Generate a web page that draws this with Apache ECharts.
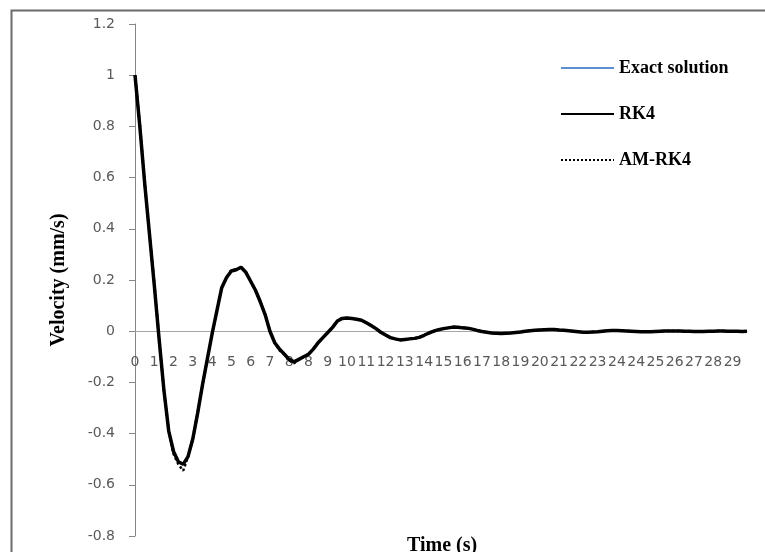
<!DOCTYPE html>
<html><head><meta charset="utf-8">
<script src="https://cdn.jsdelivr.net/npm/echarts@6/dist/echarts.min.js"></script>
<style>html,body{margin:0;padding:0;background:#fff}#c{width:765px;height:552px}</style>
</head><body><div id="c"></div><script>
// x tick labels as printed on the category axis (one per 4 samples)
const tickLabels = ['0','1','2','3','4','5','6','7','8','8','9','10','11','12','13','14','15','16','17','18','19','20','21','22','23','24','24','25','26','27','28','29'];
const samplesPerLabel = 4;

// Velocity (exact solution and RK4 coincide)
const exactVelocity = [
1.00, 0.80, 0.58, 0.38, 0.18, -0.03, -0.23, -0.39, -0.47, -0.51,
-0.52, -0.49, -0.42, -0.32, -0.21, -0.11, -0.01, 0.08, 0.17, 0.21,
0.235, 0.24, 0.25, 0.23, 0.195, 0.16, 0.115, 0.065, 0.0, -0.045,
-0.07, -0.09, -0.11, -0.12, -0.11, -0.10, -0.09, -0.07, -0.045, -0.025,
-0.005, 0.015, 0.04, 0.05, 0.052, 0.05, 0.047, 0.043, 0.033, 0.022,
0.01, -0.004, -0.015, -0.025, -0.03, -0.034, -0.032, -0.03, -0.028, -0.024,
-0.016, -0.007, 0.0, 0.006, 0.01, 0.013, 0.016, 0.015, 0.013, 0.012,
0.008, 0.003, -0.001, -0.004, -0.007, -0.008, -0.009, -0.008, -0.007, -0.005,
-0.003, 0.0, 0.002, 0.004, 0.005, 0.006, 0.007, 0.007, 0.005, 0.004,
0.002, 0.0, -0.002, -0.004, -0.004, -0.003, -0.002, 0.0, 0.002, 0.003,
0.003, 0.002, 0.001, 0.0, -0.001, -0.002, -0.002, -0.002, -0.001, 0.0,
0.001, 0.001, 0.001, 0.001, 0.0, 0.0, -0.001, -0.001, -0.001, 0.0,
0.0, 0.001, 0.001, 0.0, 0.0, 0.0, -0.001, 0.0
];
const rk4Velocity = [
1.00, 0.80, 0.58, 0.38, 0.18, -0.03, -0.23, -0.39, -0.47, -0.51,
-0.52, -0.49, -0.42, -0.32, -0.21, -0.11, -0.01, 0.08, 0.17, 0.21,
0.235, 0.24, 0.25, 0.23, 0.195, 0.16, 0.115, 0.065, 0.0, -0.045,
-0.07, -0.09, -0.11, -0.12, -0.11, -0.10, -0.09, -0.07, -0.045, -0.025,
-0.005, 0.015, 0.04, 0.05, 0.052, 0.05, 0.047, 0.043, 0.033, 0.022,
0.01, -0.004, -0.015, -0.025, -0.03, -0.034, -0.032, -0.03, -0.028, -0.024,
-0.016, -0.007, 0.0, 0.006, 0.01, 0.013, 0.016, 0.015, 0.013, 0.012,
0.008, 0.003, -0.001, -0.004, -0.007, -0.008, -0.009, -0.008, -0.007, -0.005,
-0.003, 0.0, 0.002, 0.004, 0.005, 0.006, 0.007, 0.007, 0.005, 0.004,
0.002, 0.0, -0.002, -0.004, -0.004, -0.003, -0.002, 0.0, 0.002, 0.003,
0.003, 0.002, 0.001, 0.0, -0.001, -0.002, -0.002, -0.002, -0.001, 0.0,
0.001, 0.001, 0.001, 0.001, 0.0, 0.0, -0.001, -0.001, -0.001, 0.0,
0.0, 0.001, 0.001, 0.0, 0.0, 0.0, -0.001, 0.0
];
const amRk4Velocity = [
1.00, 0.81, 0.58, 0.38, 0.19, -0.03, -0.23, -0.39, -0.48, -0.52,
-0.545, -0.49, -0.42, -0.32, -0.21, -0.11, -0.01, 0.08, 0.17, 0.21,
0.24, 0.24, 0.25, 0.23, 0.195, 0.16, 0.115, 0.065, 0.0, -0.045,
-0.075, -0.09, -0.115, -0.125, -0.11, -0.10, -0.09, -0.07, -0.045, -0.025,
-0.005, 0.015, 0.04, 0.05, 0.052, 0.05, 0.047, 0.043, 0.033, 0.022,
0.01, -0.004, -0.015, -0.025, -0.03, -0.034, -0.032, -0.03, -0.028, -0.024,
-0.016, -0.007, 0.0, 0.006, 0.01, 0.013, 0.016, 0.015, 0.013, 0.012,
0.008, 0.003, -0.001, -0.004, -0.007, -0.008, -0.009, -0.008, -0.007, -0.005,
-0.003, 0.0, 0.002, 0.004, 0.005, 0.006, 0.007, 0.007, 0.005, 0.004,
0.002, 0.0, -0.002, -0.004, -0.004, -0.003, -0.002, 0.0, 0.002, 0.003,
0.003, 0.002, 0.001, 0.0, -0.001, -0.002, -0.002, -0.002, -0.001, 0.0,
0.001, 0.001, 0.001, 0.001, 0.0, 0.0, -0.001, -0.001, -0.001, 0.0,
0.0, 0.001, 0.001, 0.0, 0.0, 0.0, -0.001, 0.0
];
const seriesNames = ['Exact solution', 'RK4', 'AM-RK4'];
const sampleIndex = exactVelocity.map((_, i) => String(i));

const chart = echarts.init(document.getElementById('c'), null, {renderer: 'canvas'});
const serif = '"Liberation Serif", "Times New Roman", serif';
chart.setOption({
  animation: false,
  backgroundColor: '#fff',
  title: {
    text: 'Time (s)', left: 407, top: 536, padding: 0,
    textStyle: {fontFamily: serif, fontWeight: 'bold', fontSize: 20, color: '#000'}
  },
  graphic: [{
    type: 'rect', left: 9, top: 8, z: -1,
    shape: {width: 800, height: 600},
    style: {fill: 'none', stroke: '#6b6b6b', lineWidth: 2}
  }],
  grid: {left: 135, right: 18, top: 24, bottom: 16, outerBoundsMode: 'none'},
  legend: {
    orient: 'vertical', left: 555, top: 54,
    itemWidth: 53, itemHeight: 18, itemGap: 28,
    data: seriesNames.map(n => ({name: n, itemStyle: {opacity: 0}})),
    textStyle: {fontFamily: serif, fontWeight: 'bold', fontSize: 18, color: '#000'}
  },
  xAxis: {
    type: 'category', data: sampleIndex, boundaryGap: false,
    position: 'bottom', offset: -205,
    axisLine: {onZero: false, lineStyle: {color: '#a6a6a6', width: 1}},
    axisTick: {show: false},
    axisLabel: {
      show: true, interval: samplesPerLabel - 1, margin: 24, hideOverlap: false,
      fontFamily: '"DejaVu Sans"', fontSize: 14, color: '#595959',
      formatter: (v, i) => (i % samplesPerLabel === 0 ? tickLabels[i / samplesPerLabel] : '')
    },
    splitLine: {show: false}
  },
  yAxis: {
    type: 'value', min: -0.8, max: 1.2, interval: 0.2,
    name: 'Velocity (mm/s)', nameLocation: 'middle', nameGap: 66,
    nameTextStyle: {fontFamily: serif, fontWeight: 'bold', fontSize: 20, color: '#000'},
    axisLine: {show: true, lineStyle: {color: '#868686', width: 1}},
    axisTick: {show: true, length: 6, lineStyle: {color: '#868686'}},
    axisLabel: {
      margin: 20, fontFamily: '"DejaVu Sans"', fontSize: 14, color: '#595959',
      formatter: v => String(parseFloat(v.toFixed(1)))
    },
    splitLine: {show: false}
  },
  series: [
    {name: seriesNames[0], type: 'line', data: exactVelocity, symbol: 'none',
     lineStyle: {color: '#5B8FD0', width: 2}, itemStyle: {color: '#5B8FD0'}},
    {name: seriesNames[1], type: 'line', data: rk4Velocity, symbol: 'none',
     lineStyle: {color: '#000', width: 3.5}, itemStyle: {color: '#000'}},
    {name: seriesNames[2], type: 'line', data: amRk4Velocity, symbol: 'none',
     lineStyle: {color: '#000', width: 2.5, type: 'dotted'}, itemStyle: {color: '#000'}}
  ]
});
</script></body></html>
